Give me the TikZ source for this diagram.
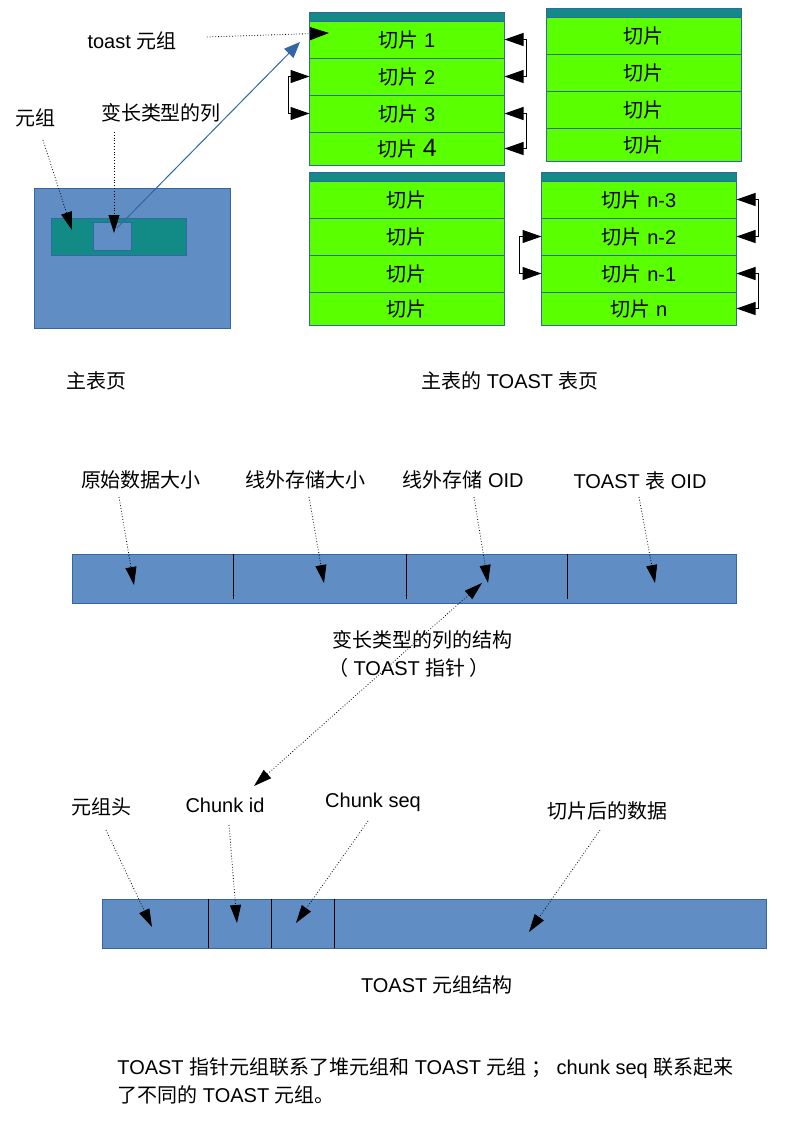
\documentclass[tikz,border=0pt]{standalone}
\usepackage{fontspec}
\setmainfont{Liberation Sans}
\newfontfamily\cjk{Noto Sans CJK SC}
\usepackage{tikz}
\usetikzlibrary{arrows.meta,positioning}
\definecolor{pageblue}{RGB}{96,141,196}
\definecolor{edgeblue}{RGB}{52,101,164}
\definecolor{tealhead}{RGB}{18,138,133}
\definecolor{slicegreen}{RGB}{90,255,0}

\begin{document}
\begin{tikzpicture}[x=0.5pt,y=-0.5pt,
		lbl/.style={font=\fontsize{10pt}{14pt}\selectfont, inner sep=0pt},
		hdr/.style={draw=edgeblue, fill=tealhead, line width=0.5pt, minimum width=97.5pt, minimum height=4.5pt, inner sep=0pt, outer sep=0pt, anchor=north},
		slice/.style={draw=edgeblue, fill=slicegreen, line width=0.5pt, minimum width=97.5pt, minimum height=18.5pt, inner sep=0pt, outer sep=0pt, font=\fontsize{10pt}{12pt}\selectfont},
		lastslice/.style={slice, minimum height=16.5pt},
		box/.style={draw=edgeblue, fill=pageblue, line width=0.5pt, inner sep=0pt},
		note/.style={densely dotted, line width=0.4pt, -{Triangle[length=9pt,width=5.5pt]}},
		twoway/.style={densely dotted, line width=0.4pt, {Triangle[length=9pt,width=5.5pt]}-{Triangle[length=9pt,width=5.5pt]}},
		link/.style={line width=0.5pt, {Triangle[length=9.5pt,width=6.5pt]}-{Triangle[length=9.5pt,width=6.5pt]}},
		pointer/.style={edgeblue, line width=0.5pt, -{Triangle[length=8pt,width=6.5pt]}},
		divider/.style={line width=0.5pt}]
	\useasboundingbox (0,0) rectangle (804,1137);

	\node[hdr] (a0) at (407,12) {};
	\node[slice, below=0pt of a0] (a1) {{\cjk 切片} 1};
	\node[slice, below=0pt of a1] (a2) {{\cjk 切片} 2};
	\node[slice, below=0pt of a2] (a3) {{\cjk 切片} 3};
	\node[lastslice, below=0pt of a3] (a4) {{\cjk 切片} {\fontsize{12.5pt}{14pt}\selectfont 4}};

	\node[hdr] (b0) at (643.5,8) {};
	\node[slice, below=0pt of b0] (b1) {\cjk 切片};
	\node[slice, below=0pt of b1] (b2) {\cjk 切片};
	\node[slice, below=0pt of b2] (b3) {\cjk 切片};
	\node[lastslice, below=0pt of b3] (b4) {\cjk 切片};

	\node[hdr] (c0) at (406.5,172) {};
	\node[slice, below=0pt of c0] (c1) {\cjk 切片};
	\node[slice, below=0pt of c1] (c2) {\cjk 切片};
	\node[slice, below=0pt of c2] (c3) {\cjk 切片};
	\node[lastslice, below=0pt of c3] (c4) {\cjk 切片};

	\node[hdr] (d0) at (639,172) {};
	\node[slice, below=0pt of d0] (d1) {{\cjk 切片} n-3};
	\node[slice, below=0pt of d1] (d2) {{\cjk 切片} n-2};
	\node[slice, below=0pt of d2] (d3) {{\cjk 切片} n-1};
	\node[lastslice, below=0pt of d3] (d4) {{\cjk 切片} n};

	\draw[link] (a2.west) -- ++(-21,0) |- (a3.west);
	\draw[link] (a1.east) -- ++(22,0) |- (a2.east);
	\draw[link] (a3.east) -- ++(22,0) |- (a4.east);
	\draw[link] (d2.west) -- ++(-22,0) |- (d3.west);
	\draw[link] (d1.east) -- ++(22,0) |- (d2.east);
	\draw[link] (d3.east) -- ++(22,0) |- (d4.east);

	\node[box, minimum width=98pt, minimum height=70pt] (page) at (132,258) {};
	\node[box, fill=tealhead, minimum width=67.5pt, minimum height=18.5pt] (tup) at (118.5,236.5) {};
	\node[box, minimum width=19pt, minimum height=14pt] (col) at (112,236) {};

	\node[lbl] (tt) at (132,41) {toast {\cjk 元组}};
	\node[lbl] (lt) at (36,118) {\cjk 元组};
	\node[lbl] (lv) at (161,113) {\cjk 变长类型的列};
	\coordinate (ttip) at (329,33);
	\coordinate (ltip) at (72,230);
	\coordinate (vtip) at (114,233);
	\coordinate (ptr) at (300,42);
	\draw[note, -{Triangle[length=9.5pt,width=6.5pt]}] ([xshift=15pt,yshift=2pt]tt.east) -- (ttip);
	\draw[note] ([shift={(7,22)}]lt.center) -- (ltip);
	\draw[note] ([shift={(-47,19)}]lv.center) -- (vtip);
	\draw[pointer] ([shift={(5,-8)}]col.center) -- (ptr);

	\node[lbl] (mp) at (97,381) {\cjk 主表页};
	\node[lbl] (tp) at (510,381) {{\cjk 主表的} TOAST {\cjk 表页}};

	\node[box, minimum width=332pt, minimum height=24.5pt] (ptrbar) at (404,578.5) {};
	\foreach \x in {233,406,567}
		\draw[divider] (\x,554) -- (\x,599);
	\node[lbl] (o1) at (141,480) {\cjk 原始数据大小};
	\node[lbl] (o2) at (305,480) {\cjk 线外存储大小};
	\node[lbl] (o3) at (463,480) {{\cjk 线外存储} OID};
	\node[lbl] (o4) at (640,481) {TOAST {\cjk 表} OID};
	\coordinate (t1) at (134,585);
	\coordinate (t2) at (324,583);
	\coordinate (t3) at (488,583);
	\coordinate (t4) at (655,583);
	\draw[note] ([shift={(-22,17)}]o1.center) -- (t1);
	\draw[note] ([shift={(4,17)}]o2.center) -- (t2);
	\draw[note] ([shift={(11,17)}]o3.center) -- (t3);
	\draw[note] ([shift={(-1,16)}]o4.center) -- (t4);

	\node[lbl] (s1) at (422,640) {\cjk 变长类型的列的结构};
	\node[lbl] (s2) at (409,668) {{\cjk （} TOAST {\cjk 指针 ）}};
	\coordinate (pup) at (482,583);
	\coordinate (pdn) at (254,786);
	\draw[twoway] (pup) -- (pdn);

	\node[box, minimum width=332pt, minimum height=24.5pt] (tupbar) at (434,923.5) {};
	\foreach \x in {208,271,334}
		\draw[divider] (\x,899) -- (\x,948);
	\node[lbl] (h1) at (101,807) {\cjk 元组头};
	\node[lbl] (h2) at (225,805) {Chunk id};
	\node[lbl] (h3) at (373,802) {Chunk seq};
	\node[lbl] (h4) at (607,811) {\cjk 切片后的数据};
	\coordinate (u1) at (152,927);
	\coordinate (u2) at (237,923);
	\coordinate (u3) at (296,923);
	\coordinate (u4) at (529,932);
	\draw[note] ([shift={(5,23)}]h1.center) -- (u1);
	\draw[note] ([shift={(4,20)}]h2.center) -- (u2);
	\draw[note] ([shift={(-5,19)}]h3.center) -- (u3);
	\draw[note] ([shift={(-7,19)}]h4.center) -- (u4);

	\node[lbl] (ts) at (437,985) {TOAST {\cjk 元组结构}};
	\node[lbl, anchor=north west, align=left] (txt) at (117,1057) {TOAST {\cjk 指针元组联系了堆元组和} TOAST {\cjk 元组 ；} chunk seq {\cjk 联系起来}\\{\cjk 了不同的} TOAST {\cjk 元组。}};
\end{tikzpicture}
\end{document}
